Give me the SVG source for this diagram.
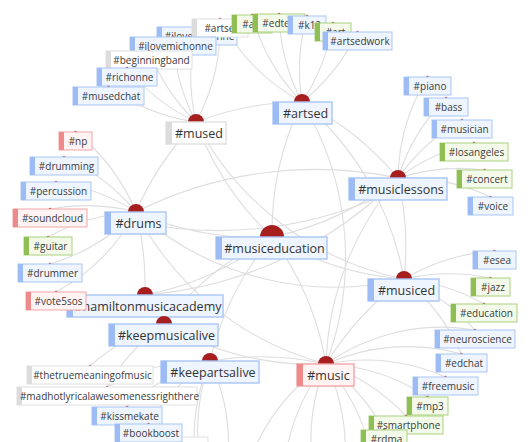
<svg xmlns="http://www.w3.org/2000/svg" width="531" height="442" viewBox="0 0 531 442">
<style>
.e{fill:none;stroke:#dedede;stroke-width:1.1}
.bx{stroke-width:1}
.blue .bx{fill:#eef5ff;stroke:#a9c5f6}.blue .bar{fill:#9dbcf6}
.green .bx{fill:#f3faea;stroke:#a9d07f}.green .bar{fill:#8fbf52}
.pink .bx{fill:#fff3f3;stroke:#f2a5a5}.pink .bar{fill:#ef8a8a}
.gray .bx{fill:#ffffff;stroke:#e0e0e0}.gray .bar{fill:#dcdcdc}
.hub .bx{stroke-width:1.4}
.l{font-family:"Open Sans","Noto Sans",sans-serif;font-size:10px;fill:#3a3a3a;text-anchor:middle}
.h{font-family:"Open Sans","Noto Sans",sans-serif;font-size:12.5px;fill:#333;text-anchor:middle}
.hc{fill:#a61e1e}
.dot{fill:#c0392b}
</style>
<rect width="531" height="442" fill="#fff"/>
<g id="connectors">
<!-- mused -->
<path class="e" d="M196,122 A200,200 0 0 1 197,27"/>
<path class="e" d="M196,122 A200,200 0 0 1 173,37"/>
<path class="e" d="M196,122 A200,200 0 0 1 149,51"/>
<path class="e" d="M196,122 A200,200 0 0 1 127,68"/>
<path class="e" d="M196,122 A200,200 0 0 1 108.5,87"/>
<path class="e" d="M196,122 A200,200 0 0 0 220,19"/>
<path class="e" d="M196,122 A300,300 0 0 1 302,102"/>
<path class="e" d="M196,122 A300,300 0 0 0 272,237"/>
<path class="e" d="M196,122 A300,300 0 0 0 136,212"/>
<path class="e" d="M196,122 A300,300 0 0 0 404,279"/>
<!-- artsed -->
<path class="e" d="M302,102 A200,200 0 0 1 252,15"/>
<path class="e" d="M302,102 A200,200 0 0 1 279,14"/>
<path class="e" d="M302,102 A200,200 0 0 1 307,16"/>
<path class="e" d="M302,102 A200,200 0 0 0 333,23"/>
<path class="e" d="M302,102 A200,200 0 0 0 357.5,32"/>
<path class="e" d="M302,102 A200,200 0 0 1 220,19"/>
<path class="e" d="M302,102 A300,300 0 0 0 272,237"/>
<path class="e" d="M302,102 A300,300 0 0 1 404,279"/>
<path class="e" d="M302,102 A300,300 0 0 1 326,364"/>
<path class="e" d="M302,102 A300,300 0 0 1 398,178"/>
<!-- drums -->
<path class="e" d="M136,212 A200,200 0 0 0 75.5,132"/>
<path class="e" d="M136,212 A200,200 0 0 0 64,157"/>
<path class="e" d="M136,212 A200,200 0 0 0 56,182"/>
<path class="e" d="M136,212 A200,200 0 0 0 50,209"/>
<path class="e" d="M136,212 A200,200 0 0 0 48,237"/>
<path class="e" d="M136,212 A200,200 0 0 1 50,264"/>
<path class="e" d="M136,212 A200,200 0 0 1 56,292"/>
<path class="e" d="M136,212 A300,300 0 0 0 272,237"/>
<path class="e" d="M136,212 A400,400 0 0 1 398,178"/>
<path class="e" d="M136,222 A400,400 0 0 0 398,188"/>
<path class="e" d="M136,212 A300,300 0 0 0 404,279"/>
<path class="e" d="M136,212 A300,300 0 0 0 326,364"/>
<path class="e" d="M136,212 A300,300 0 0 1 145,295"/>
<!-- musiclessons -->
<path class="e" d="M398,178 A200,200 0 0 1 427.5,77"/>
<path class="e" d="M398,178 A200,200 0 0 1 446,98"/>
<path class="e" d="M398,178 A200,200 0 0 1 462,120"/>
<path class="e" d="M398,178 A200,200 0 0 1 474,143"/>
<path class="e" d="M398,178 A200,200 0 0 1 484.5,170"/>
<path class="e" d="M398,178 A200,200 0 0 1 490.5,197"/>
<path class="e" d="M398,178 A300,300 0 0 1 272,237"/>
<path class="e" d="M398,178 A300,300 0 0 0 326,364"/>
<path class="e" d="M398,178 A300,300 0 0 1 404,279"/>
<path class="e" d="M398,178 A400,400 0 0 1 145,295"/>
<!-- musiceducation -->
<path class="e" d="M272,237 A300,300 0 0 0 404,279"/>
<path class="e" d="M272,237 A300,300 0 0 1 326,364"/>
<path class="e" d="M272,237 A300,300 0 0 1 145,295"/>
<path class="e" d="M272,237 A300,300 0 0 0 164,324"/>
<path class="e" d="M272,237 A300,300 0 0 0 210,361"/>
<!-- musiced -->
<path class="e" d="M404,279 A200,200 0 0 1 494.5,251"/>
<path class="e" d="M404,279 A200,200 0 0 1 490.5,278"/>
<path class="e" d="M404,279 A200,200 0 0 1 484,304"/>
<path class="e" d="M404,279 A200,200 0 0 1 475,330"/>
<path class="e" d="M404,279 A200,200 0 0 1 461.5,354"/>
<path class="e" d="M404,279 A300,300 0 0 0 326,364"/>
<!-- music -->
<path class="e" d="M326,364 A200,200 0 0 1 445.5,377"/>
<path class="e" d="M326,364 A200,200 0 0 1 427.5,397"/>
<path class="e" d="M326,364 A200,200 0 0 1 406,416"/>
<path class="e" d="M326,364 A200,200 0 0 1 384,430"/>
<path class="e" d="M326,364 A200,200 0 0 1 461.5,354"/>
<path class="e" d="M326,364 A200,200 0 0 1 475,330"/>
<path class="e" d="M326,364 A200,200 0 0 0 250,460"/>
<path class="e" d="M326,364 A200,200 0 0 0 285,460"/>
<path class="e" d="M326,364 A200,200 0 0 0 312,460"/>
<path class="e" d="M326,364 A200,200 0 0 1 345,460"/>
<path class="e" d="M326,364 A200,200 0 0 1 372,460"/>
<!-- keep -->
<path class="e" d="M164,324 A200,200 0 0 0 90,366"/>
<path class="e" d="M164,324 A200,200 0 0 0 107,387"/>
<path class="e" d="M164,324 A300,300 0 0 0 326,364"/>
<path class="e" d="M210,361 A200,200 0 0 0 127,407"/>
<path class="e" d="M210,361 A200,200 0 0 0 148.5,424"/>
<path class="e" d="M210,361 A200,200 0 0 0 194,437"/>
<path class="e" d="M210,361 A200,200 0 0 0 107,387"/>
<path class="e" d="M210,361 A200,200 0 0 0 200,460"/>
<path class="e" d="M210,361 A200,200 0 0 1 228,460"/>
<path class="e" d="M210,361 A300,300 0 0 1 326,364"/>
</g>

<!-- top cluster -->
<g id="n-iloverichonne" class="blue"><circle class="dot" cx="197" cy="27" r="1.3"/><rect class="bx" x="157" y="27" width="80" height="18"/><rect class="bar" x="157" y="27" width="5" height="18"/><text class="l" x="199.5" y="39.7">#iloverichonne</text></g>
<g id="n-artsed-leaf" class="gray"><circle class="dot" cx="220" cy="19" r="1.3"/><rect class="bx" x="192" y="19" width="56" height="18"/><rect class="bar" x="192" y="19" width="5" height="18"/><text class="l" x="222.5" y="31.7">#artsed</text></g>
<g id="n-arts" class="green"><circle class="dot" cx="252" cy="15" r="1.3"/><rect class="bx" x="232" y="15" width="40" height="18"/><rect class="bar" x="232" y="15" width="5" height="18"/><text class="l" x="254.5" y="27.7">#arts</text></g>
<g id="n-edtech" class="green"><circle class="dot" cx="279" cy="14" r="1.3"/><rect class="bx" x="253" y="14" width="52" height="18"/><rect class="bar" x="253" y="14" width="5" height="18"/><text class="l" x="281.5" y="26.7">#edtech</text></g>
<g id="n-k12" class="blue"><circle class="dot" cx="307" cy="16" r="1.3"/><rect class="bx" x="288" y="16" width="38" height="18"/><rect class="bar" x="288" y="16" width="5" height="18"/><text class="l" x="309.5" y="28.7">#k12</text></g>
<g id="n-art" class="green"><circle class="dot" cx="333" cy="23" r="1.3"/><rect class="bx" x="315" y="23" width="36" height="18"/><rect class="bar" x="315" y="23" width="5" height="18"/><text class="l" x="335.5" y="35.7">#art</text></g>
<g id="n-artsedwork" class="blue"><circle class="dot" cx="357.5" cy="32" r="1.3"/><rect class="bx" x="323" y="32" width="69" height="18"/><rect class="bar" x="323" y="32" width="5" height="18"/><text class="l" x="360" y="44.7">#artsedwork</text></g>
<g id="n-ilovemichonne" class="blue"><circle class="dot" cx="173" cy="37" r="1.3"/><rect class="bx" x="130" y="37" width="86" height="18"/><rect class="bar" x="130" y="37" width="5" height="18"/><text class="l" x="175.5" y="49.7">#ilovemichonne</text></g>
<g id="n-beginningband" class="gray"><circle class="dot" cx="149" cy="51" r="1.3"/><rect class="bx" x="106" y="51" width="86" height="18"/><rect class="bar" x="106" y="51" width="5" height="18"/><text class="l" x="151.5" y="63.7">#beginningband</text></g>
<g id="n-richonne" class="blue"><circle class="dot" cx="127" cy="68" r="1.3"/><rect class="bx" x="97" y="68" width="60" height="18"/><rect class="bar" x="97" y="68" width="5" height="18"/><text class="l" x="129.5" y="80.7">#richonne</text></g>
<g id="n-musedchat" class="blue"><circle class="dot" cx="108.5" cy="87" r="1.3"/><rect class="bx" x="73" y="87" width="71" height="18"/><rect class="bar" x="73" y="87" width="5" height="18"/><text class="l" x="111" y="99.7">#musedchat</text></g>

<!-- musiclessons leaves -->
<g id="n-piano" class="blue"><circle class="dot" cx="427.5" cy="77" r="1.3"/><rect class="bx" x="404" y="77" width="47" height="18"/><rect class="bar" x="404" y="77" width="5" height="18"/><text class="l" x="430" y="89.7">#piano</text></g>
<g id="n-bass" class="blue"><circle class="dot" cx="446" cy="98" r="1.3"/><rect class="bx" x="424" y="98" width="44" height="18"/><rect class="bar" x="424" y="98" width="5" height="18"/><text class="l" x="448.5" y="110.7">#bass</text></g>
<g id="n-musician" class="blue"><circle class="dot" cx="462" cy="120" r="1.3"/><rect class="bx" x="432" y="120" width="60" height="18"/><rect class="bar" x="432" y="120" width="5" height="18"/><text class="l" x="464.5" y="132.7">#musician</text></g>
<g id="n-losangeles" class="green"><circle class="dot" cx="474" cy="143" r="1.3"/><rect class="bx" x="440" y="143" width="68" height="18"/><rect class="bar" x="440" y="143" width="5" height="18"/><text class="l" x="476.5" y="155.7">#losangeles</text></g>
<g id="n-concert" class="green"><circle class="dot" cx="484.5" cy="170" r="1.3"/><rect class="bx" x="457" y="170" width="55" height="18"/><rect class="bar" x="457" y="170" width="5" height="18"/><text class="l" x="487" y="182.7">#concert</text></g>
<g id="n-voice" class="blue"><circle class="dot" cx="490.5" cy="197" r="1.3"/><rect class="bx" x="468" y="197" width="45" height="18"/><rect class="bar" x="468" y="197" width="5" height="18"/><text class="l" x="493" y="209.7">#voice</text></g>

<!-- drums leaves -->
<g id="n-np" class="pink"><circle class="dot" cx="75.5" cy="132" r="1.3"/><rect class="bx" x="59" y="132" width="33" height="18"/><rect class="bar" x="59" y="132" width="5" height="18"/><text class="l" x="78" y="144.7">#np</text></g>
<g id="n-drumming" class="blue"><circle class="dot" cx="64" cy="157" r="1.3"/><rect class="bx" x="30" y="157" width="68" height="18"/><rect class="bar" x="30" y="157" width="5" height="18"/><text class="l" x="66.5" y="169.7">#drumming</text></g>
<g id="n-percussion" class="blue"><circle class="dot" cx="56" cy="182" r="1.3"/><rect class="bx" x="21" y="182" width="70" height="18"/><rect class="bar" x="21" y="182" width="5" height="18"/><text class="l" x="58.5" y="194.7">#percussion</text></g>
<g id="n-soundcloud" class="pink"><circle class="dot" cx="50" cy="209" r="1.3"/><rect class="bx" x="13" y="209" width="74" height="18"/><rect class="bar" x="13" y="209" width="5" height="18"/><text class="l" x="52.5" y="221.7">#soundcloud</text></g>
<g id="n-guitar" class="green"><circle class="dot" cx="48" cy="237" r="1.3"/><rect class="bx" x="24" y="237" width="48" height="18"/><rect class="bar" x="24" y="237" width="5" height="18"/><text class="l" x="50.5" y="249.7">#guitar</text></g>
<g id="n-drummer" class="blue"><circle class="dot" cx="50" cy="264" r="1.3"/><rect class="bx" x="18" y="264" width="64" height="18"/><rect class="bar" x="18" y="264" width="5" height="18"/><text class="l" x="52.5" y="276.7">#drummer</text></g>

<!-- hubs -->
<g id="n-mused" class="gray hub"><circle class="hc" cx="196" cy="122" r="8"/><rect class="bx" x="166" y="122" width="60" height="22"/><rect class="bar" x="166" y="122" width="6" height="22"/><text class="h" x="199" y="137.5">#mused</text></g>
<g id="n-artsed" class="blue hub"><circle class="hc" cx="302" cy="102" r="8"/><rect class="bx" x="273" y="102" width="59" height="22"/><rect class="bar" x="273" y="102" width="6" height="22"/><text class="h" x="305.5" y="117.5">#artsed</text></g>
<g id="n-musiclessons" class="blue hub"><circle class="hc" cx="398" cy="178" r="8"/><rect class="bx" x="349" y="178" width="98" height="22"/><rect class="bar" x="349" y="178" width="6" height="22"/><text class="h" x="401" y="193.5">#musiclessons</text></g>
<g id="n-drums" class="blue hub"><circle class="hc" cx="136" cy="212" r="8"/><rect class="bx" x="105" y="212" width="61" height="22"/><rect class="bar" x="105" y="212" width="6" height="22"/><text class="h" x="138.5" y="227.5">#drums</text></g>
<g id="n-musiceducation" class="blue hub"><circle class="hc" cx="272" cy="237" r="12"/><rect class="bx" x="216" y="237" width="111" height="22"/><rect class="bar" x="216" y="237" width="6" height="22"/><text class="h" x="274.5" y="252.5">#musiceducation</text></g>
<g id="n-musiced" class="blue hub"><circle class="hc" cx="404" cy="279" r="8"/><rect class="bx" x="368" y="279" width="71" height="22"/><rect class="bar" x="368" y="279" width="6" height="22"/><text class="h" x="406.5" y="294.5">#musiced</text></g>
<g id="n-hamiltonmusicacademy" class="blue hub"><circle class="hc" cx="145" cy="295" r="8"/><rect class="bx" x="67" y="295" width="156" height="22"/><rect class="bar" x="67" y="295" width="6" height="22"/><text class="h" x="148" y="310.5">#hamiltonmusicacademy</text></g>
<g id="n-vote5sos" class="pink"><circle class="dot" cx="56" cy="292" r="1.3"/><rect class="bx" x="26" y="292" width="60" height="18"/><rect class="bar" x="26" y="292" width="5" height="18"/><text class="l" x="58.5" y="304.7">#vote5sos</text></g>
<g id="n-keepmusicalive" class="blue hub"><circle class="hc" cx="164" cy="324" r="8"/><rect class="bx" x="109" y="324" width="109" height="22"/><rect class="bar" x="109" y="324" width="6" height="22"/><text class="h" x="166.5" y="339.5">#keepmusicalive</text></g>
<g id="n-keepartsalive" class="blue hub"><circle class="hc" cx="210" cy="361" r="8"/><rect class="bx" x="161" y="361" width="98" height="22"/><rect class="bar" x="161" y="361" width="6" height="22"/><text class="h" x="213" y="376.5">#keepartsalive</text></g>
<g id="n-music" class="pink hub"><circle class="hc" cx="326" cy="364" r="8"/><rect class="bx" x="297" y="364" width="57" height="22"/><rect class="bar" x="297" y="364" width="6" height="22"/><text class="h" x="328.5" y="379.5">#music</text></g>

<!-- musiced leaves -->
<g id="n-esea" class="blue"><circle class="dot" cx="494.5" cy="251" r="1.3"/><rect class="bx" x="473" y="251" width="43" height="18"/><rect class="bar" x="473" y="251" width="5" height="18"/><text class="l" x="497" y="263.7">#esea</text></g>
<g id="n-jazz" class="green"><circle class="dot" cx="490.5" cy="278" r="1.3"/><rect class="bx" x="471" y="278" width="39" height="18"/><rect class="bar" x="471" y="278" width="5" height="18"/><text class="l" x="493" y="290.7">#jazz</text></g>
<g id="n-education" class="green"><circle class="dot" cx="484" cy="304" r="1.3"/><rect class="bx" x="451" y="304" width="66" height="18"/><rect class="bar" x="451" y="304" width="5" height="18"/><text class="l" x="486.5" y="316.7">#education</text></g>
<g id="n-neuroscience" class="blue"><circle class="dot" cx="475" cy="330" r="1.3"/><rect class="bx" x="435" y="330" width="80" height="18"/><rect class="bar" x="435" y="330" width="5" height="18"/><text class="l" x="477.5" y="342.7">#neuroscience</text></g>
<g id="n-edchat" class="blue"><circle class="dot" cx="461.5" cy="354" r="1.3"/><rect class="bx" x="436" y="354" width="51" height="18"/><rect class="bar" x="436" y="354" width="5" height="18"/><text class="l" x="464" y="366.7">#edchat</text></g>

<!-- music leaves -->
<g id="n-freemusic" class="blue"><circle class="dot" cx="445.5" cy="377" r="1.3"/><rect class="bx" x="413" y="377" width="65" height="18"/><rect class="bar" x="413" y="377" width="5" height="18"/><text class="l" x="448" y="389.7">#freemusic</text></g>
<g id="n-mp3" class="green"><circle class="dot" cx="427.5" cy="397" r="1.3"/><rect class="bx" x="407" y="397" width="41" height="18"/><rect class="bar" x="407" y="397" width="5" height="18"/><text class="l" x="430" y="409.7">#mp3</text></g>
<g id="n-smartphone" class="green"><circle class="dot" cx="406" cy="416" r="1.3"/><rect class="bx" x="369" y="416" width="74" height="18"/><rect class="bar" x="369" y="416" width="5" height="18"/><text class="l" x="408.5" y="428.7">#smartphone</text></g>
<g id="n-rdma" class="green"><circle class="dot" cx="384" cy="430" r="1.3"/><rect class="bx" x="361" y="430" width="46" height="18"/><rect class="bar" x="361" y="430" width="5" height="18"/><text class="l" x="386.5" y="442.7">#rdma</text></g>

<!-- keep leaves -->
<g id="n-thetruemeaningofmusic" class="gray"><circle class="dot" cx="90" cy="366" r="1.3"/><rect class="bx" x="27" y="366" width="126" height="18"/><rect class="bar" x="27" y="366" width="5" height="18"/><text class="l" x="92.5" y="378.7">#thetruemeaningofmusic</text></g>
<g id="n-madhotlyricalawesomenessrighthere" class="gray"><circle class="dot" cx="107" cy="387" r="1.3"/><rect class="bx" x="17" y="387" width="180" height="18"/><rect class="bar" x="17" y="387" width="5" height="18"/><text class="l" x="109.5" y="399.7">#madhotlyricalawesomenessrighthere</text></g>
<g id="n-kissmekate" class="blue"><circle class="dot" cx="127" cy="407" r="1.3"/><rect class="bx" x="92" y="407" width="70" height="18"/><rect class="bar" x="92" y="407" width="5" height="18"/><text class="l" x="129.5" y="419.7">#kissmekate</text></g>
<g id="n-offscreen" class="gray"><rect class="bx" x="180" y="437" width="28" height="18"/></g>
<g id="n-bookboost" class="blue"><circle class="dot" cx="148.5" cy="424" r="1.3"/><rect class="bx" x="115" y="424" width="67" height="18"/><rect class="bar" x="115" y="424" width="5" height="18"/><text class="l" x="151" y="436.7">#bookboost</text></g>
</svg>
